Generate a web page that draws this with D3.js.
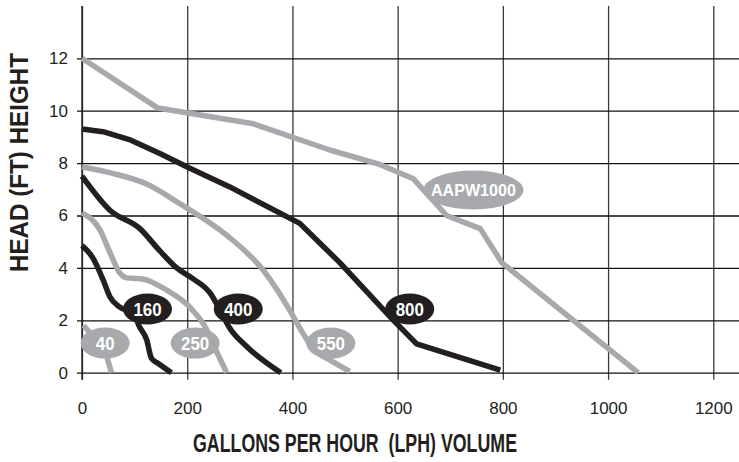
<!DOCTYPE html>
<html>
<head>
<meta charset="utf-8">
<script src="https://cdn.jsdelivr.net/npm/d3@7"></script>
<style>
  html, body { margin: 0; padding: 0; background: #fff; }
  svg { display: block; }
</style>
</head>
<body>
<svg id="chart" width="739" height="462"></svg>
<script>
// ---------- DATA ----------
const xTicks = [0, 200, 400, 600, 800, 1000, 1200];
const yTicks = [0, 2, 4, 6, 8, 10, 12];
const xTitle = "GALLONS PER HOUR  (LPH) VOLUME";
const yTitle = "HEAD (FT) HEIGHT";

const seriesNames = ["40", "160", "250", "400", "550", "800", "AAPW1000"];
const seriesShade = ["gray", "black", "gray", "black", "gray", "black", "gray"];

// [gallons per hour, head ft]
const pump40 = [[3, 1.8], [25, 1.3], [42, 0.9], [48, 0.55], [56, 0]];
const pump160 = [[0, 4.85], [20, 4.4], [40, 3.55], [53, 2.9], [72, 2.5], [100, 2.25], [107, 1.85], [123, 1.25], [132, 0.55], [145, 0.35], [170, 0]];
const pump250 = [[0, 6.1], [34, 5.45], [55, 4.5], [72, 3.8], [85, 3.62], [115, 3.58], [161, 3.15], [205, 2.5], [237, 1.65], [256, 0.8], [275, 0]];
const pump400 = [[0, 7.5], [53, 6.2], [110, 5.5], [148, 4.65], [180, 4.0], [210, 3.6], [245, 3.0], [262, 2.4], [281, 1.7], [313, 1.0], [378, 0]];
const pump550 = [[0, 7.85], [60, 7.6], [123, 7.2], [186, 6.45], [237, 5.8], [281, 5.15], [345, 3.9], [376, 3.0], [400, 2.2], [420, 1.5], [440, 0.9], [470, 0.5], [509, 0.05]];
const pump800 = [[0, 9.3], [40, 9.2], [90, 8.9], [150, 8.35], [200, 7.85], [280, 7.1], [414, 5.7], [490, 4.2], [592, 2.0], [636, 1.1], [795, 0.1]];
const pumpAAPW1000 = [[0, 12.0], [144, 10.1], [326, 9.5], [471, 8.5], [566, 7.95], [630, 7.4], [693, 6.0], [757, 5.5], [798, 4.2], [1057, 0]];

// label anchors, in data units (gph, ft)
const labelAnchors = [[44, 1.13], [124.5, 2.43], [215, 1.13], [297, 2.43], [473, 1.13], [623, 2.43], [744, 6.97]];

const seriesData = [pump40, pump160, pump250, pump400, pump550, pump800, pumpAAPW1000];

// ---------- DRAWING ----------
const W = 739, H = 462;
const BLACK = "#231f20", GRAY = "#a7a9ac";
const svg = d3.select("#chart");

const x = d3.scaleLinear().domain([0, 1200]).range([82, 713.3]);
const y = d3.scaleLinear().domain([0, 14]).range([372.7, 5.9]);

// X axis + vertical grid
const gx = svg.append("g")
  .attr("transform", `translate(0,${y(0)})`)
  .call(d3.axisBottom(x).tickValues(xTicks).tickFormat(d3.format("d"))
    .tickSizeInner(7).tickSizeOuter(0).tickPadding(22));
gx.select(".domain").remove();
gx.selectAll(".tick line")
  .attr("y1", y(14) - y(0))
  .attr("y2", 7)
  .attr("stroke", "#3a3a3a")
  .attr("stroke-width", 1.3);
gx.selectAll(".tick text")
  .attr("fill", BLACK)
  .attr("font-family", "Liberation Sans, Arial, sans-serif")
  .attr("font-size", 17);

// Y axis + horizontal grid
const gy = svg.append("g")
  .attr("transform", `translate(${x(0)},0)`)
  .call(d3.axisLeft(y).tickValues(yTicks).tickFormat(d3.format("d"))
    .tickSizeInner(5).tickSizeOuter(0).tickPadding(9));
gy.select(".domain").remove();
gy.selectAll(".tick line")
  .attr("x1", -5)
  .attr("x2", W - x(0))
  .attr("stroke", "#111")
  .attr("stroke-width", 1.3);
gy.selectAll(".tick text")
  .attr("fill", BLACK)
  .attr("font-family", "Liberation Sans, Arial, sans-serif")
  .attr("font-size", 17);

// x=0 axis line on top of horizontal grid
svg.append("line")
  .attr("x1", x(0)).attr("x2", x(0))
  .attr("y1", y(14)).attr("y2", y(0) + 7)
  .attr("stroke", "#222").attr("stroke-width", 1.4);

// curves: the two big pumps are drawn with straight segments, the small ones smooth
const straight = new Set(["800", "AAPW1000"]);
const lineStraight = d3.line().x(d => x(d[0])).y(d => y(d[1])).curve(d3.curveLinear);
const lineSmooth = d3.line().x(d => x(d[0])).y(d => y(d[1])).curve(d3.curveMonotoneX);
const colorOf = s => s === "black" ? BLACK : GRAY;

svg.append("g").selectAll("path")
  .data(seriesData)
  .join("path")
  .attr("d", (d, i) => straight.has(seriesNames[i]) ? lineStraight(d) : lineSmooth(d))
  .attr("fill", "none")
  .attr("stroke", (d, i) => colorOf(seriesShade[i]))
  .attr("stroke-width", 5.5)
  .attr("stroke-linejoin", "round")
  .attr("stroke-linecap", "butt");

// labels (bubbles)
const lbl = svg.append("g").selectAll("g")
  .data(seriesNames)
  .join("g")
  .attr("transform", (d, i) => `translate(${x(labelAnchors[i][0])},${y(labelAnchors[i][1])})`);
lbl.append("ellipse")
  .attr("rx", d => d.length > 3 ? 50 : 24.5)
  .attr("ry", d => d.length > 3 ? 19.5 : 15.5)
  .attr("fill", (d, i) => colorOf(seriesShade[i]));
lbl.append("text")
  .attr("text-anchor", "middle")
  .attr("dy", "0.36em")
  .attr("fill", "#fff")
  .attr("font-family", "Liberation Sans, Arial, sans-serif")
  .attr("font-weight", "bold")
  .attr("font-size", d => d.length > 3 ? 17 : 18.5)
  .attr("textLength", d => d.length > 3 ? 85 : d.length * 9.4)
  .attr("lengthAdjust", "spacingAndGlyphs")
  .text(d => d);

// axis titles
svg.append("text")
  .attr("x", 355).attr("y", 452)
  .attr("text-anchor", "middle")
  .attr("fill", BLACK)
  .attr("font-family", "Liberation Sans, Arial, sans-serif")
  .attr("font-weight", "bold")
  .attr("font-size", 26)
  .attr("textLength", 324)
  .attr("lengthAdjust", "spacingAndGlyphs")
  .style("white-space", "pre")
  .text(xTitle);

svg.append("text")
  .attr("transform", "translate(27.5,162.5) rotate(-90)")
  .attr("text-anchor", "middle")
  .attr("fill", BLACK)
  .attr("font-family", "Liberation Sans, Arial, sans-serif")
  .attr("font-weight", "bold")
  .attr("font-size", 26)
  .attr("textLength", 219)
  .attr("lengthAdjust", "spacingAndGlyphs")
  .text(yTitle);
</script>
</body>
</html>
